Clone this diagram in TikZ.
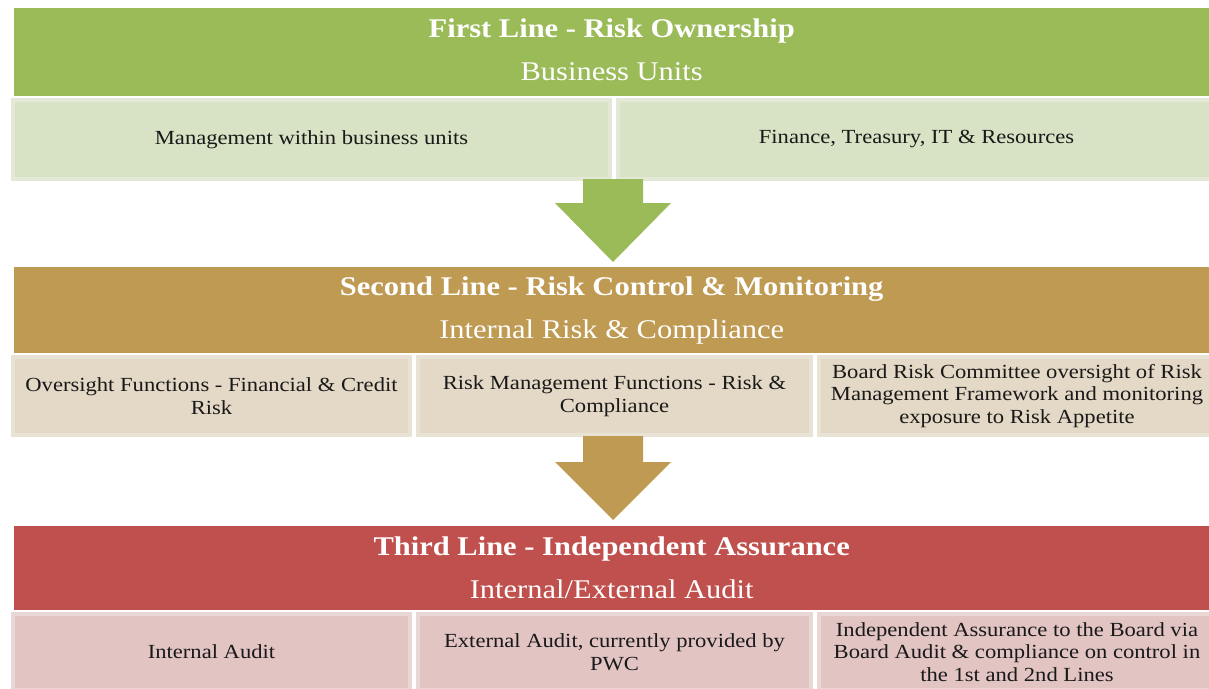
\documentclass[tikz,border=0pt]{standalone}
\usepackage{fontspec}
\setmainfont{Liberation Serif}[FakeStretch=1.13]
\usetikzlibrary{calc}
\definecolor{lGreen}{RGB}{155,187,89}
\definecolor{lGreenPale}{RGB}{216,226,196}
\definecolor{lGreenEdge}{RGB}{227,232,215}
\definecolor{lTan}{RGB}{191,154,83}
\definecolor{lTanPale}{RGB}{227,217,198}
\definecolor{lTanEdge}{RGB}{233,227,214}
\definecolor{lRed}{RGB}{192,80,77}
\definecolor{lRedPale}{RGB}{226,196,195}
\definecolor{lRedEdge}{RGB}{233,215,214}
\definecolor{lInk}{RGB}{25,25,25}
\tikzset{
    hdr/.style={rectangle, anchor=north west, inner sep=0pt, minimum width=1195pt, text=white, align=center, font=\fontsize{27}{43}\selectfont},
    cell/.style={rectangle, anchor=north west, inner sep=0pt, line width=4pt, text=lInk, align=center, font=\fontsize{20}{22.5}\selectfont}
}

\begin{document}
\begin{tikzpicture}[x=1pt,y=-1pt]
\useasboundingbox (0,0) rectangle (1209,688);
% first line
\node[hdr, fill=lGreen, minimum height=88pt] (h1) at (14,8) {\textbf{First Line - Risk Ownership}\\Business Units\rule[-6pt]{0pt}{0pt}};
\node[cell, fill=lGreenPale, draw=lGreenEdge, minimum width=597pt, minimum height=79pt] (c11) at (11,98) {Management within business units};
\node[cell, fill=lGreenPale, draw=lGreenEdge, minimum width=597pt, minimum height=79pt] (c12) at (616,98) {Finance, Treasury, IT \& Resources};
% second line
\node[hdr, fill=lTan, minimum height=86pt] (h2) at (14,267) {\textbf{Second Line - Risk Control \& Monitoring}\\Internal Risk \& Compliance\rule[-4pt]{0pt}{0pt}};
\node[cell, fill=lTanPale, draw=lTanEdge, minimum width=397pt, minimum height=78pt] (c21) at (11,355) {Oversight Functions - Financial \& Credit\\Risk};
\node[cell, fill=lTanPale, draw=lTanEdge, minimum width=393pt, minimum height=78pt] (c22) at (416,355) {Risk Management Functions - Risk \&\\Compliance};
\node[cell, fill=lTanPale, draw=lTanEdge, minimum width=396pt, minimum height=78pt] (c23) at (817,355) {Board Risk Committee oversight of Risk\\Management Framework and monitoring\\exposure to Risk Appetite};
% third line
\node[hdr, fill=lRed, minimum height=84pt] (h3) at (14,526) {\textbf{Third Line - Independent Assurance}\\Internal/External Audit\rule[-2pt]{0pt}{0pt}};
\node[cell, fill=lRedPale, draw=lRedEdge, minimum width=397pt, minimum height=76pt] (c31) at (11,612) {Internal Audit};
\node[cell, fill=lRedPale, draw=lRedEdge, minimum width=393pt, minimum height=76pt] (c32) at (416,612) {External Audit, currently provided by\\PWC};
\node[cell, fill=lRedPale, draw=lRedEdge, minimum width=396pt, minimum height=76pt] (c33) at (817,612) {Independent Assurance to the Board via\\Board Audit \& compliance on control in\\the 1st and 2nd Lines};
% block arrows between the lines
\coordinate (a1s) at (613,179);
\coordinate (a1t) at (613,262);
\coordinate (a2s) at (613,436);
\coordinate (a2t) at (613,520);
\fill[lGreen] ($(a1s)+(-30,0)$) -- ($(a1s)+(30,0)$) -- ($(a1t)+(30,-59)$) -- ($(a1t)+(58,-59)$)
    -- (a1t) -- ($(a1t)+(-58,-59)$) -- ($(a1t)+(-30,-59)$) -- cycle;
\fill[lTan] ($(a2s)+(-30,0)$) -- ($(a2s)+(30,0)$) -- ($(a2t)+(30,-58)$) -- ($(a2t)+(58,-58)$)
    -- (a2t) -- ($(a2t)+(-58,-58)$) -- ($(a2t)+(-30,-58)$) -- cycle;
\end{tikzpicture}
\end{document}
